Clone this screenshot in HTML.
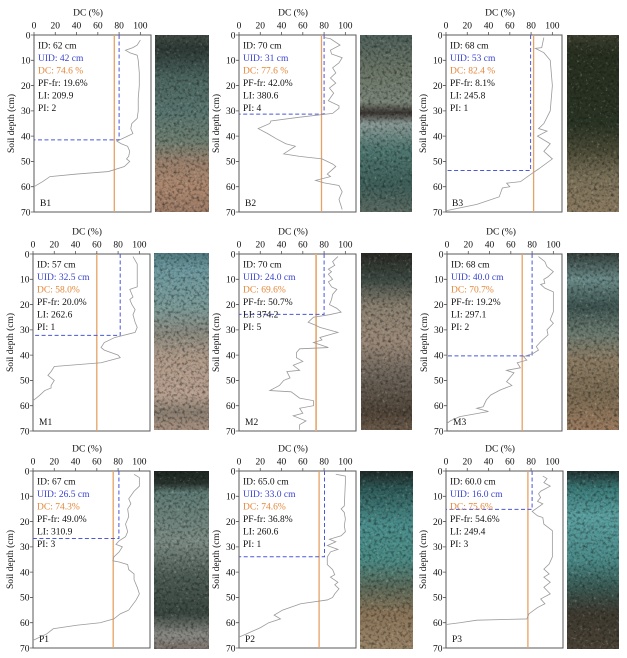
<!DOCTYPE html>
<html>
<head>
<meta charset="utf-8">
<style>
html,body{margin:0;padding:0;background:#fff;}
svg{display:block;}
text{font-family:"Liberation Serif","DejaVu Serif",serif;font-size:9.5px;fill:#111;}
.tk{text-anchor:middle;}
.yt{text-anchor:end;}
.b{fill:#3a44d0;}
.o{fill:#e4873a;}
.box{fill:#fff;stroke:#5a5a5a;stroke-width:1;}
.tick{stroke:#555;stroke-width:0.8;}
.cur{fill:none;stroke:#9a9a9a;stroke-width:0.8;}
.ol{stroke:#e6a264;stroke-width:1.3;}
.bl{stroke:#4a58d8;stroke-width:1;stroke-dasharray:4,2.5;fill:none;}
</style>
</head>
<body>
<svg width="627" height="658" viewBox="0 0 627 658" xmlns="http://www.w3.org/2000/svg">
<defs>
<filter id="tex" x="0" y="0" width="1" height="1" color-interpolation-filters="sRGB">
<feTurbulence type="fractalNoise" baseFrequency="0.35" numOctaves="2" seed="7" result="n"/>
<feColorMatrix in="n" type="matrix" values="0 0 0 0 0.05  0 0 0 0 0.06  0 0 0 0 0.05  1.3 0 0 0 -0.6" result="d"/>
<feColorMatrix in="n" type="matrix" values="0 0 0 0 0.9  0 0 0 0 0.88  0 0 0 0 0.84  0 1.0 0 0 -0.62" result="l"/>
<feComposite in="d" in2="SourceGraphic" operator="in" result="d2"/>
<feComposite in="l" in2="SourceGraphic" operator="in" result="l2"/>
<feMerge><feMergeNode in="SourceGraphic"/><feMergeNode in="d2"/><feMergeNode in="l2"/></feMerge>
</filter>
<linearGradient id="gB1" x1="0" y1="0" x2="0" y2="1">
<stop offset="0" stop-color="#3e4a42"/><stop offset="0.08" stop-color="#2e3a36"/><stop offset="0.25" stop-color="#4c6660"/><stop offset="0.45" stop-color="#5a7670"/><stop offset="0.6" stop-color="#6e7e70"/><stop offset="0.72" stop-color="#9a806c"/><stop offset="0.85" stop-color="#ac876e"/><stop offset="1" stop-color="#9c7a66"/>
</linearGradient>
<linearGradient id="gB2" x1="0" y1="0" x2="0" y2="1">
<stop offset="0" stop-color="#4e605a"/><stop offset="0.2" stop-color="#6a7466"/><stop offset="0.38" stop-color="#7a8478"/><stop offset="0.44" stop-color="#3a3430"/><stop offset="0.5" stop-color="#8a9a96"/><stop offset="0.65" stop-color="#4e7670"/><stop offset="0.85" stop-color="#3e5e58"/><stop offset="1" stop-color="#5a6a62"/>
</linearGradient>
<linearGradient id="gB3" x1="0" y1="0" x2="0" y2="1">
<stop offset="0" stop-color="#3c4030"/><stop offset="0.1" stop-color="#283020"/><stop offset="0.5" stop-color="#2a3424"/><stop offset="0.65" stop-color="#4a4a36"/><stop offset="0.8" stop-color="#7a7058"/><stop offset="1" stop-color="#8a7a60"/>
</linearGradient>
<linearGradient id="gM1" x1="0" y1="0" x2="0" y2="1">
<stop offset="0" stop-color="#4e7a80"/><stop offset="0.1" stop-color="#6e9aa0"/><stop offset="0.3" stop-color="#7a9a98"/><stop offset="0.45" stop-color="#8a8a80"/><stop offset="0.6" stop-color="#b09a88"/><stop offset="0.8" stop-color="#b8a090"/><stop offset="0.9" stop-color="#8a7e70"/><stop offset="1" stop-color="#a89080"/>
</linearGradient>
<linearGradient id="gM2" x1="0" y1="0" x2="0" y2="1">
<stop offset="0" stop-color="#2a2a24"/><stop offset="0.15" stop-color="#3e4a44"/><stop offset="0.3" stop-color="#8a8070"/><stop offset="0.5" stop-color="#9a8878"/><stop offset="0.7" stop-color="#6a6258"/><stop offset="0.9" stop-color="#504438"/><stop offset="1" stop-color="#6a5a4a"/>
</linearGradient>
<linearGradient id="gM3" x1="0" y1="0" x2="0" y2="1">
<stop offset="0" stop-color="#34403c"/><stop offset="0.15" stop-color="#6a8a88"/><stop offset="0.3" stop-color="#3e5450"/><stop offset="0.45" stop-color="#6a7a70"/><stop offset="0.6" stop-color="#8a7a62"/><stop offset="0.8" stop-color="#7a6a52"/><stop offset="1" stop-color="#9a7a5e"/>
</linearGradient>
<linearGradient id="gP1" x1="0" y1="0" x2="0" y2="1">
<stop offset="0" stop-color="#1e2622"/><stop offset="0.07" stop-color="#28332e"/><stop offset="0.12" stop-color="#5e7a74"/><stop offset="0.4" stop-color="#7a8a82"/><stop offset="0.6" stop-color="#4a5a52"/><stop offset="0.8" stop-color="#3a4640"/><stop offset="0.92" stop-color="#8a8a84"/><stop offset="1" stop-color="#7a706a"/>
</linearGradient>
<linearGradient id="gP2" x1="0" y1="0" x2="0" y2="1">
<stop offset="0" stop-color="#1e2a28"/><stop offset="0.1" stop-color="#2e5a58"/><stop offset="0.3" stop-color="#4a8e8c"/><stop offset="0.5" stop-color="#4a8a84"/><stop offset="0.65" stop-color="#5a6a5a"/><stop offset="0.8" stop-color="#8a7458"/><stop offset="1" stop-color="#9a8468"/>
</linearGradient>
<linearGradient id="gP3" x1="0" y1="0" x2="0" y2="1">
<stop offset="0" stop-color="#203030"/><stop offset="0.1" stop-color="#3a7a78"/><stop offset="0.25" stop-color="#5aa0a0"/><stop offset="0.5" stop-color="#4a8a88"/><stop offset="0.65" stop-color="#3a5a54"/><stop offset="0.8" stop-color="#3e3a30"/><stop offset="1" stop-color="#4a4236"/>
</linearGradient>
</defs>

<!-- Photos -->
<rect x="155" y="35" width="54" height="177" fill="url(#gB1)" filter="url(#tex)"/>
<rect x="360" y="35" width="52" height="177" fill="url(#gB2)" filter="url(#tex)"/>
<rect x="567" y="35" width="52" height="177" fill="url(#gB3)" filter="url(#tex)"/>
<rect x="154" y="253" width="55" height="177" fill="url(#gM1)" filter="url(#tex)"/>
<rect x="361" y="253" width="51" height="177" fill="url(#gM2)" filter="url(#tex)"/>
<rect x="567" y="253" width="52" height="177" fill="url(#gM3)" filter="url(#tex)"/>
<rect x="154" y="471" width="55" height="178" fill="url(#gP1)" filter="url(#tex)"/>
<rect x="360" y="471" width="53" height="178" fill="url(#gP2)" filter="url(#tex)"/>
<rect x="567" y="471" width="52" height="178" fill="url(#gP3)" filter="url(#tex)"/>

<!-- ============ B1 ============ -->
<g transform="translate(34,35)">
<text x="54" y="-19.5" class="tk">DC (%)</text>
<text x="0" y="-6.5" class="tk">0</text><text x="21.27" y="-6.5" class="tk">20</text><text x="42.55" y="-6.5" class="tk">40</text><text x="63.82" y="-6.5" class="tk">60</text><text x="85.09" y="-6.5" class="tk">80</text><text x="106.36" y="-6.5" class="tk">100</text>
<text x="-3.5" y="3.3" class="yt">0</text><text x="-3.5" y="28.6" class="yt">10</text><text x="-3.5" y="53.9" class="yt">20</text><text x="-3.5" y="79.2" class="yt">30</text><text x="-3.5" y="104.4" class="yt">40</text><text x="-3.5" y="129.7" class="yt">50</text><text x="-3.5" y="155" class="yt">60</text><text x="-3.5" y="180.3" class="yt">70</text>
<text transform="translate(-20,88.5) rotate(-90)" text-anchor="middle">Soil depth (cm)</text>
<rect class="box" x="0" y="0" width="117" height="177"/>
<path class="tick" d="M0,0v-3M21.27,0v-3M42.55,0v-3M63.82,0v-3M85.09,0v-3M106.36,0v-3M0,0h-3M0,25.29h-3M0,50.57h-3M0,75.86h-3M0,101.14h-3M0,126.43h-3M0,151.71h-3M0,177h-3"/>
<line class="ol" x1="80.3" y1="0" x2="80.3" y2="177"/>
<path class="bl" d="M85.1,0V104.9H0"/>
<g transform="scale(1.06364,2.52857)"><polyline class="cur" vector-effect="non-scaling-stroke" points="100,2 97,4 93,5 86,6 90,7 97,8 98,10 99,15 99,20 98,25 98,30 97,33 92,35 91,37 93,39 88,40 83,41 78,42 82,43 88,44 90,46 89,48 87,49 90,50 85,52 70,54 40,55 15,56 8,58 0,60"/></g>
<text x="4" y="13.5">ID: 62 cm</text>
<text x="4" y="26" class="b">UID: 42 cm</text>
<text x="4" y="38.5" class="o">DC: 74.6 %</text>
<text x="4" y="51">PF-fr: 19.6%</text>
<text x="4" y="63.5">LI: 209.9</text>
<text x="4" y="76">PI: 2</text>
<text x="6" y="171">B1</text>
</g>

<!-- ============ B2 ============ -->
<g transform="translate(239,35)">
<text x="54" y="-19.5" class="tk">DC (%)</text>
<text x="0" y="-6.5" class="tk">0</text><text x="21.27" y="-6.5" class="tk">20</text><text x="42.55" y="-6.5" class="tk">40</text><text x="63.82" y="-6.5" class="tk">60</text><text x="85.09" y="-6.5" class="tk">80</text><text x="106.36" y="-6.5" class="tk">100</text>
<text x="-3.5" y="3.3" class="yt">0</text><text x="-3.5" y="28.6" class="yt">10</text><text x="-3.5" y="53.9" class="yt">20</text><text x="-3.5" y="79.2" class="yt">30</text><text x="-3.5" y="104.4" class="yt">40</text><text x="-3.5" y="129.7" class="yt">50</text><text x="-3.5" y="155" class="yt">60</text><text x="-3.5" y="180.3" class="yt">70</text>
<text transform="translate(-20,88.5) rotate(-90)" text-anchor="middle">Soil depth (cm)</text>
<rect class="box" x="0" y="0" width="117" height="177"/>
<path class="tick" d="M0,0v-3M21.27,0v-3M42.55,0v-3M63.82,0v-3M85.09,0v-3M106.36,0v-3M0,0h-3M0,25.29h-3M0,50.57h-3M0,75.86h-3M0,101.14h-3M0,126.43h-3M0,151.71h-3M0,177h-3"/>
<line class="ol" x1="82.5" y1="0" x2="82.5" y2="177"/>
<path class="bl" d="M85.1,0V79.1H0"/>
<g transform="scale(1.06364,2.52857)"><polyline class="cur" vector-effect="non-scaling-stroke" points="80,1 86,1.5 95,4 86,6 87,7.5 97,9 94,11 88,13 91,15 86,17 91,19 85,21 89,23 84,26 94,28 94,29 88,31 57,32.5 30,34 29,35 18,37 27,39 35,41 44,43 53,44 42,47 57,48 78,49 88,51 91,52 83,55 86,56 72,57.5 80,58.5 94,59.5 97,62 94,65 97,69"/></g>
<text x="4" y="13.5">ID: 70 cm</text>
<text x="4" y="26" class="b">UID: 31 cm</text>
<text x="4" y="38.5" class="o">DC: 77.6 %</text>
<text x="4" y="51">PF-fr: 42.0%</text>
<text x="4" y="63.5">LI: 380.6</text>
<text x="4" y="76">PI: 4</text>
<text x="6" y="171">B2</text>
</g>

<!-- ============ B3 ============ -->
<g transform="translate(446,35)">
<text x="54" y="-19.5" class="tk">DC (%)</text>
<text x="0" y="-6.5" class="tk">0</text><text x="21.27" y="-6.5" class="tk">20</text><text x="42.55" y="-6.5" class="tk">40</text><text x="63.82" y="-6.5" class="tk">60</text><text x="85.09" y="-6.5" class="tk">80</text><text x="106.36" y="-6.5" class="tk">100</text>
<text x="-3.5" y="3.3" class="yt">0</text><text x="-3.5" y="28.6" class="yt">10</text><text x="-3.5" y="53.9" class="yt">20</text><text x="-3.5" y="79.2" class="yt">30</text><text x="-3.5" y="104.4" class="yt">40</text><text x="-3.5" y="129.7" class="yt">50</text><text x="-3.5" y="155" class="yt">60</text><text x="-3.5" y="180.3" class="yt">70</text>
<text transform="translate(-20,88.5) rotate(-90)" text-anchor="middle">Soil depth (cm)</text>
<rect class="box" x="0" y="0" width="116" height="177"/>
<path class="tick" d="M0,0v-3M21.27,0v-3M42.55,0v-3M63.82,0v-3M85.09,0v-3M106.36,0v-3M0,0h-3M0,25.29h-3M0,50.57h-3M0,75.86h-3M0,101.14h-3M0,126.43h-3M0,151.71h-3M0,177h-3"/>
<line class="ol" x1="87.6" y1="0" x2="87.6" y2="177"/>
<path class="bl" d="M84.6,0V135.5H0"/>
<g transform="scale(1.06364,2.52857)"><polyline class="cur" vector-effect="non-scaling-stroke" points="92,1 91,3 90,5 84,5.3 92,7 98,10 100,20 98,30 92,35 87,37 95,38 86,40 98,43 92,46 100,49 87,53 80,55 70,58 57,58.6 60,60 53,60.5 50,64 29,67 0,69.5"/></g>
<text x="4" y="13.5">ID: 68 cm</text>
<text x="4" y="26" class="b">UID: 53 cm</text>
<text x="4" y="38.5" class="o">DC: 82.4 %</text>
<text x="4" y="51">PF-fr: 8.1%</text>
<text x="4" y="63.5">LI: 245.8</text>
<text x="4" y="76">PI: 1</text>
<text x="6" y="171">B3</text>
</g>

<!-- ============ M1 ============ -->
<g transform="translate(33,254)">
<text x="54" y="-19.5" class="tk">DC (%)</text>
<text x="0" y="-6.5" class="tk">0</text><text x="21.27" y="-6.5" class="tk">20</text><text x="42.55" y="-6.5" class="tk">40</text><text x="63.82" y="-6.5" class="tk">60</text><text x="85.09" y="-6.5" class="tk">80</text><text x="106.36" y="-6.5" class="tk">100</text>
<text x="-3.5" y="3.3" class="yt">0</text><text x="-3.5" y="28.6" class="yt">10</text><text x="-3.5" y="53.9" class="yt">20</text><text x="-3.5" y="79.2" class="yt">30</text><text x="-3.5" y="104.4" class="yt">40</text><text x="-3.5" y="129.7" class="yt">50</text><text x="-3.5" y="155" class="yt">60</text><text x="-3.5" y="180.3" class="yt">70</text>
<text transform="translate(-20,88.5) rotate(-90)" text-anchor="middle">Soil depth (cm)</text>
<rect class="box" x="0" y="0" width="117" height="177"/>
<path class="tick" d="M0,0v-3M21.27,0v-3M42.55,0v-3M63.82,0v-3M85.09,0v-3M106.36,0v-3M0,0h-3M0,25.29h-3M0,50.57h-3M0,75.86h-3M0,101.14h-3M0,126.43h-3M0,151.71h-3M0,177h-3"/>
<line class="ol" x1="63.8" y1="0" x2="63.8" y2="177"/>
<path class="bl" d="M87.2,0V81.4H0"/>
<g transform="scale(1.06364,2.52857)"><polyline class="cur" vector-effect="non-scaling-stroke" points="94,1 98,4 98,13 91,14 94,17 91,18 93,20 96,22 94,24 96,27 98,29 96,31 77,33 67,35 64,37 67,38 80,40 82,41 64,43 20,44.5 17,46.5 14,48 20,50 17,52 17,53 11,54 6,56 0,58"/></g>
<text x="4" y="13.5">ID: 57 cm</text>
<text x="4" y="26" class="b">UID: 32.5 cm</text>
<text x="4" y="38.5" class="o">DC: 58.0%</text>
<text x="4" y="51">PF-fr: 20.0%</text>
<text x="4" y="63.5">LI: 262.6</text>
<text x="4" y="76">PI: 1</text>
<text x="6" y="171">M1</text>
</g>

<!-- ============ M2 ============ -->
<g transform="translate(239,254)">
<text x="54" y="-19.5" class="tk">DC (%)</text>
<text x="0" y="-6.5" class="tk">0</text><text x="21.27" y="-6.5" class="tk">20</text><text x="42.55" y="-6.5" class="tk">40</text><text x="63.82" y="-6.5" class="tk">60</text><text x="85.09" y="-6.5" class="tk">80</text><text x="106.36" y="-6.5" class="tk">100</text>
<text x="-3.5" y="3.3" class="yt">0</text><text x="-3.5" y="28.6" class="yt">10</text><text x="-3.5" y="53.9" class="yt">20</text><text x="-3.5" y="79.2" class="yt">30</text><text x="-3.5" y="104.4" class="yt">40</text><text x="-3.5" y="129.7" class="yt">50</text><text x="-3.5" y="155" class="yt">60</text><text x="-3.5" y="180.3" class="yt">70</text>
<text transform="translate(-20,88.5) rotate(-90)" text-anchor="middle">Soil depth (cm)</text>
<rect class="box" x="0" y="0" width="117" height="177"/>
<path class="tick" d="M0,0v-3M21.27,0v-3M42.55,0v-3M63.82,0v-3M85.09,0v-3M106.36,0v-3M0,0h-3M0,25.29h-3M0,50.57h-3M0,75.86h-3M0,101.14h-3M0,126.43h-3M0,151.71h-3M0,177h-3"/>
<line class="ol" x1="77.1" y1="0" x2="77.1" y2="177" style="stroke-width:1.8;stroke:#eab07a"/>
<path class="bl" d="M85.1,0V60.4H0"/>
<g transform="scale(1.06364,2.52857)"><polyline class="cur" vector-effect="non-scaling-stroke" points="93,1 88,3 90,4.5 84,6 87,7 84,8 88,10 84,11 87,13 92,14 88,16 87,18 85,20 92,21.5 96,23 85,24 70,25 65,27 71,28 76,29 93,31 76,33 78,34 70,35 84,37 57,37.5 54,39 54,41 60,42.5 51,44 57,46 45,46.5 48,49 42,50 38,52 29,54 49,54.5 57,57 70,58 70,60 57,61 60,63 51,64 63,66 57,67.5 57,69.5"/></g>
<text x="4" y="13.5">ID: 70 cm</text>
<text x="4" y="26" class="b">UID: 24.0 cm</text>
<text x="4" y="38.5" class="o">DC: 69.6%</text>
<text x="4" y="51">PF-fr: 50.7%</text>
<text x="4" y="63.5">LI: 374.2</text>
<text x="4" y="76">PI: 5</text>
<text x="6" y="171">M2</text>
</g>

<!-- ============ M3 ============ -->
<g transform="translate(447,254)">
<text x="54" y="-19.5" class="tk">DC (%)</text>
<text x="0" y="-6.5" class="tk">0</text><text x="21.27" y="-6.5" class="tk">20</text><text x="42.55" y="-6.5" class="tk">40</text><text x="63.82" y="-6.5" class="tk">60</text><text x="85.09" y="-6.5" class="tk">80</text><text x="106.36" y="-6.5" class="tk">100</text>
<text x="-3.5" y="3.3" class="yt">0</text><text x="-3.5" y="28.6" class="yt">10</text><text x="-3.5" y="53.9" class="yt">20</text><text x="-3.5" y="79.2" class="yt">30</text><text x="-3.5" y="104.4" class="yt">40</text><text x="-3.5" y="129.7" class="yt">50</text><text x="-3.5" y="155" class="yt">60</text><text x="-3.5" y="180.3" class="yt">70</text>
<text transform="translate(-20,88.5) rotate(-90)" text-anchor="middle">Soil depth (cm)</text>
<rect class="box" x="0" y="0" width="115" height="177"/>
<path class="tick" d="M0,0v-3M21.27,0v-3M42.55,0v-3M63.82,0v-3M85.09,0v-3M106.36,0v-3M0,0h-3M0,25.29h-3M0,50.57h-3M0,75.86h-3M0,101.14h-3M0,126.43h-3M0,151.71h-3M0,177h-3"/>
<line class="ol" x1="75.2" y1="0" x2="75.2" y2="177"/>
<path class="bl" d="M85.1,0V101.9H0"/>
<g transform="scale(1.06364,2.52857)"><polyline class="cur" vector-effect="non-scaling-stroke" points="86,1 89,2 92,3 94,5 100,7 95,9 91,10 92,11.6 88,12 92,13.5 100,15 100,22.8 97,26 100,27.4 94,30 95,32 88,34.7 84,36.6 86,38 81,39.3 72,40.6 75,42 66,43 69,45 56,46 63,47 59,49 56,50.5 61,52 50,53.8 41,55.8 37,57.7 34,60.4 28,61 39,62.3 12,64.3 3,66 0,67"/></g>
<text x="4" y="13.5">ID: 68 cm</text>
<text x="4" y="26" class="b">UID: 40.0 cm</text>
<text x="4" y="38.5" class="o">DC: 70.7%</text>
<text x="4" y="51">PF-fr: 19.2%</text>
<text x="4" y="63.5">LI: 297.1</text>
<text x="4" y="76">PI: 2</text>
<text x="6" y="171">M3</text>
</g>

<!-- ============ P1 ============ -->
<g transform="translate(33,471)">
<text x="54" y="-19.5" class="tk">DC (%)</text>
<text x="0" y="-6.5" class="tk">0</text><text x="21.27" y="-6.5" class="tk">20</text><text x="42.55" y="-6.5" class="tk">40</text><text x="63.82" y="-6.5" class="tk">60</text><text x="85.09" y="-6.5" class="tk">80</text><text x="106.36" y="-6.5" class="tk">100</text>
<text x="-3.5" y="3.3" class="yt">0</text><text x="-3.5" y="28.6" class="yt">10</text><text x="-3.5" y="53.9" class="yt">20</text><text x="-3.5" y="79.2" class="yt">30</text><text x="-3.5" y="104.4" class="yt">40</text><text x="-3.5" y="129.7" class="yt">50</text><text x="-3.5" y="155" class="yt">60</text><text x="-3.5" y="180.3" class="yt">70</text>
<text transform="translate(-20,88.5) rotate(-90)" text-anchor="middle">Soil depth (cm)</text>
<rect class="box" x="0" y="0" width="117" height="177"/>
<path class="tick" d="M0,0v-3M21.27,0v-3M42.55,0v-3M63.82,0v-3M85.09,0v-3M106.36,0v-3M0,0h-3M0,25.29h-3M0,50.57h-3M0,75.86h-3M0,101.14h-3M0,126.43h-3M0,151.71h-3M0,177h-3"/>
<line class="ol" x1="80.2" y1="0" x2="80.2" y2="177"/>
<path class="bl" d="M85.9,0V67.5H0"/>
<g transform="scale(1.06364,2.52857)"><polyline class="cur" vector-effect="non-scaling-stroke" points="95,1.3 100,2.6 100,6 95,8 90,11 92,13 89,15 90,18 87,21 89,24 87,26 81,27.6 78,29 84,30 81,32 76,34 75,35.5 81,36 89,37 90,39 95,40.7 95,43 98,46 100,48.6 97,51 90,55 82,56.5 76,58.5 63,60 41,61 19,62.4 13,64.4 3,66.4 0,67"/></g>
<text x="4" y="13.5">ID: 67 cm</text>
<text x="4" y="26" class="b">UID: 26.5 cm</text>
<text x="4" y="38.5" class="o">DC: 74.3%</text>
<text x="4" y="51">PF-fr: 49.0%</text>
<text x="4" y="63.5">LI: 310.9</text>
<text x="4" y="76">PI: 3</text>
<text x="6" y="171">P1</text>
</g>

<!-- ============ P2 ============ -->
<g transform="translate(239,471)">
<text x="54" y="-19.5" class="tk">DC (%)</text>
<text x="0" y="-6.5" class="tk">0</text><text x="21.27" y="-6.5" class="tk">20</text><text x="42.55" y="-6.5" class="tk">40</text><text x="63.82" y="-6.5" class="tk">60</text><text x="85.09" y="-6.5" class="tk">80</text><text x="106.36" y="-6.5" class="tk">100</text>
<text x="-3.5" y="3.3" class="yt">0</text><text x="-3.5" y="28.6" class="yt">10</text><text x="-3.5" y="53.9" class="yt">20</text><text x="-3.5" y="79.2" class="yt">30</text><text x="-3.5" y="104.4" class="yt">40</text><text x="-3.5" y="129.7" class="yt">50</text><text x="-3.5" y="155" class="yt">60</text><text x="-3.5" y="180.3" class="yt">70</text>
<text transform="translate(-20,88.5) rotate(-90)" text-anchor="middle">Soil depth (cm)</text>
<rect class="box" x="0" y="0" width="117" height="177"/>
<path class="tick" d="M0,0v-3M21.27,0v-3M42.55,0v-3M63.82,0v-3M85.09,0v-3M106.36,0v-3M0,0h-3M0,25.29h-3M0,50.57h-3M0,75.86h-3M0,101.14h-3M0,126.43h-3M0,151.71h-3M0,177h-3"/>
<line class="ol" x1="80.1" y1="0" x2="80.1" y2="177"/>
<path class="bl" d="M85.5,0V85.7H0"/>
<g transform="scale(1.06364,2.52857)"><polyline class="cur" vector-effect="non-scaling-stroke" points="91,1.3 100,2 100,4.6 99,13.8 96,15 99,16.4 100,19 99,21.7 100,24 96,25.6 85,27 91,28 83,29.5 93,31 86,32 83,34 83,37 88,39 90,41 86,42 93,44 90,45 94,46.6 90,48.6 88,50 83,51 58,52.5 48,54 41,55 33,57 39,58.5 28,60 20,62 7,64.4 0,65.7"/></g>
<text x="4" y="13.5">ID: 65.0 cm</text>
<text x="4" y="26" class="b">UID: 33.0 cm</text>
<text x="4" y="38.5" class="o">DC: 74.6%</text>
<text x="4" y="51">PF-fr: 36.8%</text>
<text x="4" y="63.5">LI: 260.6</text>
<text x="4" y="76">PI: 1</text>
<text x="6" y="171">P2</text>
</g>

<!-- ============ P3 ============ -->
<g transform="translate(446,471)">
<text x="54" y="-19.5" class="tk">DC (%)</text>
<text x="0" y="-6.5" class="tk">0</text><text x="21.27" y="-6.5" class="tk">20</text><text x="42.55" y="-6.5" class="tk">40</text><text x="63.82" y="-6.5" class="tk">60</text><text x="85.09" y="-6.5" class="tk">80</text><text x="106.36" y="-6.5" class="tk">100</text>
<text x="-3.5" y="3.3" class="yt">0</text><text x="-3.5" y="28.6" class="yt">10</text><text x="-3.5" y="53.9" class="yt">20</text><text x="-3.5" y="79.2" class="yt">30</text><text x="-3.5" y="104.4" class="yt">40</text><text x="-3.5" y="129.7" class="yt">50</text><text x="-3.5" y="155" class="yt">60</text><text x="-3.5" y="180.3" class="yt">70</text>
<text transform="translate(-20,88.5) rotate(-90)" text-anchor="middle">Soil depth (cm)</text>
<rect class="box" x="0" y="0" width="117" height="177"/>
<path class="tick" d="M0,0v-3M21.27,0v-3M42.55,0v-3M63.82,0v-3M85.09,0v-3M106.36,0v-3M0,0h-3M0,25.29h-3M0,50.57h-3M0,75.86h-3M0,101.14h-3M0,126.43h-3M0,151.71h-3M0,177h-3"/>
<line class="ol" x1="81.9" y1="0" x2="81.9" y2="177"/>
<path class="bl" d="M86.1,0V38.4H0"/>
<g transform="scale(1.06364,2.52857)"><polyline class="cur" vector-effect="non-scaling-stroke" points="91,2 95,3 92,4.6 98,6 89,8 87,9 89,10.5 86,12 91,13 86,14.5 81,16 86,17.7 91,18.4 92,21 100,23.6 100,34 97,36.8 92,38.8 97,40.7 92,42 98,44 92,46 98,48.6 89,50.6 93,52.5 86,54 78,56.5 76,58.5 29,59 13,60 0,60.7"/></g>
<text x="4" y="13.5">ID: 60.0 cm</text>
<text x="4" y="26" class="b">UID: 16.0 cm</text>
<text x="4" y="38.5" class="o">DC: 75.6%</text>
<text x="4" y="51">PF-fr: 54.6%</text>
<text x="4" y="63.5">LI: 249.4</text>
<text x="4" y="76">PI: 3</text>
<text x="6" y="171">P3</text>
</g>
</svg>
</body>
</html>
